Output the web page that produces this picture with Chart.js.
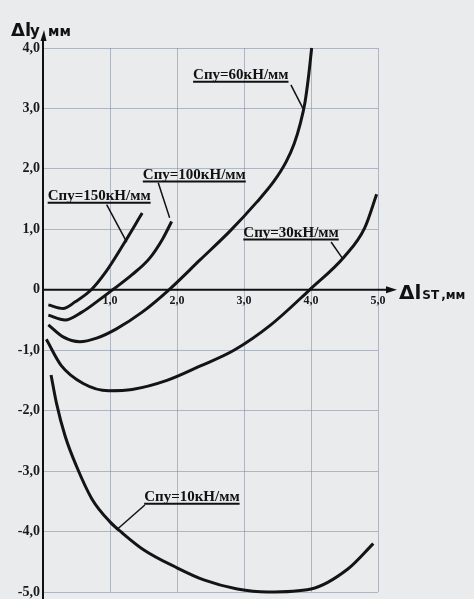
<!DOCTYPE html>
<html>
<head>
<meta charset="utf-8">
<script src="https://cdn.jsdelivr.net/npm/chart.js@4"></script>
<style>
  html, body { margin: 0; padding: 0; background: #e9ebec; }
  #wrap { width: 474px; height: 599px; }
</style>
</head>
<body>
<div id="wrap"><canvas id="chart"></canvas></div>
<script>
// curves: x = ΔlST (мм), y = Δly (мм)
const c150X = [0.08, 0.3, 0.48, 0.72, 0.94, 1.21, 1.48];
const c150Y = [-0.25, -0.31, -0.2, 0, 0.3, 0.77, 1.27];

const c100X = [0.08, 0.33, 0.58, 0.8, 1.04, 1.33, 1.59, 1.79, 1.92];
const c100Y = [-0.42, -0.5, -0.37, -0.2, 0, 0.25, 0.52, 0.85, 1.13];

const c60X = [0.08, 0.3, 0.55, 0.8, 1.09, 1.48, 1.88, 2.34, 2.79, 3.19, 3.45, 3.63, 3.75, 3.84, 3.91, 3.96, 4.01];
const c60Y = [-0.58, -0.78, -0.86, -0.8, -0.65, -0.37, 0, 0.49, 0.97, 1.45, 1.8, 2.12, 2.42, 2.75, 3.1, 3.5, 4.0];

const c30X = [0.05, 0.27, 0.6, 0.98, 1.33, 1.85, 2.35, 2.85, 3.4, 3.98, 4.5, 4.8, 4.98];
const c30Y = [-0.82, -1.25, -1.55, -1.67, -1.65, -1.5, -1.26, -1.0, -0.58, 0, 0.55, 1.02, 1.58];

const c10X = [0.12, 0.2, 0.33, 0.5, 0.73, 1.0, 1.18, 1.5, 2.0, 2.4, 2.9, 3.35, 4.0, 4.55, 4.93];
const c10Y = [-1.41, -1.87, -2.42, -2.92, -3.46, -3.84, -4.02, -4.3, -4.6, -4.8, -4.95, -5.0, -4.95, -4.62, -4.2];

const xTicks = [0, 1, 2, 3, 4, 5];
const yTicks = [-5, -4, -3, -2, -1, 0, 1, 2, 3, 4];

const curveLabels = ['Спу=150кН/мм', 'Спу=100кН/мм', 'Спу=60кН/мм', 'Спу=30кН/мм', 'Спу=10кН/мм'];

// where each label sits and where its leader touches the curve (data units)
const callouts = [
  { text: curveLabels[0], x: 0.07, y: 1.44, from: [0.95, 1.41], to: [1.25, 0.79] },
  { text: curveLabels[1], x: 1.49, y: 1.79, from: [1.72, 1.77], to: [1.89, 1.19] },
  { text: curveLabels[2], x: 2.24, y: 3.44, from: [3.7, 3.39], to: [3.88, 3.0] },
  { text: curveLabels[3], x: 2.99, y: 0.83, from: [4.3, 0.79], to: [4.47, 0.52] },
  { text: curveLabels[4], x: 1.51, y: -3.54, from: [1.52, -3.56], to: [1.1, -3.97] }
];

const pts = (xs, ys) => xs.map((x, i) => ({ x: x, y: ys[i] }));
const fmt = v => (v === 0 ? '0' : v.toFixed(1).replace('.', ','));

const curve = (label, xs, ys) => ({
  label: label,
  data: pts(xs, ys),
  showLine: true,
  borderColor: '#141414',
  borderWidth: 3,
  pointRadius: 0,
  cubicInterpolationMode: 'monotone',
  clip: false
});

const serif = '"Liberation Serif", "DejaVu Serif", serif';
const sans = '"DejaVu Sans", "Liberation Sans", sans-serif';

const decor = {
  id: 'decor',
  afterDraw(chart) {
    const c = chart.ctx;
    const xs = chart.scales.x, ys = chart.scales.y;
    const x0 = xs.getPixelForValue(0), y0 = ys.getPixelForValue(0);
    const xEnd = xs.right + 19, yTop = ys.top - 18;
    c.save();
    c.strokeStyle = '#111';
    c.fillStyle = '#111';
    c.lineWidth = 2;
    // axes with arrows
    c.beginPath();
    c.moveTo(x0, chart.height);
    c.lineTo(x0, yTop + 6);
    c.moveTo(x0, y0);
    c.lineTo(xEnd - 6, y0);
    c.stroke();
    c.beginPath();
    c.moveTo(x0 + 1, yTop);
    c.lineTo(x0 - 2.5, yTop + 11);
    c.lineTo(x0 + 3.5, yTop + 11);
    c.closePath();
    c.fill();
    c.beginPath();
    c.moveTo(xEnd, y0);
    c.lineTo(xEnd - 11, y0 - 3.5);
    c.lineTo(xEnd - 11, y0 + 3.5);
    c.closePath();
    c.fill();

    // axis titles
    c.textBaseline = 'alphabetic';
    c.textAlign = 'left';
    c.font = 'bold 18px ' + sans;
    c.fillText('Δl', x0 - 32, yTop + 6);
    c.font = 'bold 15px ' + sans;
    c.fillText('y', x0 - 13, yTop + 6);
    c.font = 'bold 14px ' + sans;
    c.fillText('мм', x0 + 5, yTop + 6);

    let tx = xEnd + 2;
    const by = y0 + 9;
    c.font = 'bold 20px ' + sans;
    c.fillText('Δl', tx, by);
    tx += c.measureText('Δl').width + 1;
    c.font = 'bold 12px ' + sans;
    c.fillText('ST', tx, by);
    tx += c.measureText('ST').width + 2;
    c.fillText(',мм', tx, by);

    // callouts
    c.font = 'bold 15px ' + serif;
    callouts.forEach(a => {
      const px = xs.getPixelForValue(a.x), py = ys.getPixelForValue(a.y);
      const w = c.measureText(a.text).width;
      c.fillText(a.text, px, py - 3);
      c.lineWidth = 2;
      c.beginPath();
      c.moveTo(px, py);
      c.lineTo(px + w, py);
      c.stroke();
      c.lineWidth = 1.5;
      c.beginPath();
      c.moveTo(xs.getPixelForValue(a.from[0]), ys.getPixelForValue(a.from[1]));
      c.lineTo(xs.getPixelForValue(a.to[0]), ys.getPixelForValue(a.to[1]));
      c.stroke();
    });
    c.restore();
  }
};

new Chart(document.getElementById('chart'), {
  type: 'scatter',
  data: {
    datasets: [
      curve(curveLabels[0], c150X, c150Y),
      curve(curveLabels[1], c100X, c100Y),
      curve(curveLabels[2], c60X, c60Y),
      curve(curveLabels[3], c30X, c30Y),
      curve(curveLabels[4], c10X, c10Y)
    ]
  },
  options: {
    responsive: true,
    maintainAspectRatio: false,
    animation: false,
    layout: { padding: { top: 48, right: 96, bottom: 7, left: 0 } },
    scales: {
      x: {
        type: 'linear',
        position: { y: 0 },
        min: 0,
        max: 5,
        afterBuildTicks: s => { s.ticks = xTicks.map(v => ({ value: v })); },
        afterFit: s => { s.paddingLeft = 0; s.paddingRight = 0; },
        border: { display: false },
        grid: { color: 'rgba(130,136,160,0.55)', lineWidth: 1, drawTicks: false },
        ticks: {
          padding: 4,
          color: '#1a1a1a',
          font: { family: serif, size: 12, weight: 'bold' },
          maxRotation: 0,
          callback: v => (v === 0 ? '' : fmt(v))
        }
      },
      y: {
        type: 'linear',
        position: 'left',
        min: -5,
        max: 4,
        afterBuildTicks: s => { s.ticks = yTicks.map(v => ({ value: v })); },
        afterFit: s => { s.width = 43; s.paddingTop = 0; s.paddingBottom = 0; },
        border: { display: false },
        grid: { color: 'rgba(130,136,160,0.55)', lineWidth: 1, drawTicks: false },
        ticks: {
          padding: 3,
          color: '#1a1a1a',
          font: { family: serif, size: 14, weight: 'bold' },
          callback: v => fmt(v)
        }
      }
    },
    plugins: {
      legend: { display: false },
      tooltip: { enabled: false }
    }
  },
  plugins: [decor]
});
</script>
</body>
</html>
